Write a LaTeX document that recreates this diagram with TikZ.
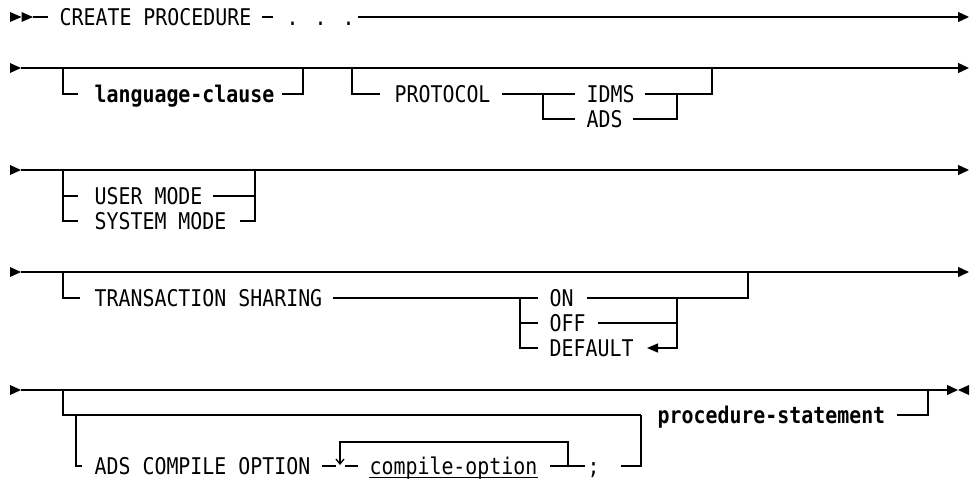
\documentclass[tikz,border=0pt]{standalone}
\usepackage{fontspec}
\usetikzlibrary{arrows.meta}
\newfontfamily\rrfont{DejaVu Sans Mono}[FakeStretch=0.865]
\begin{document}
\begin{tikzpicture}[x=1pt,y=-1pt,line width=1.3pt,
  txt/.style={inner sep=0pt,anchor=base west,font=\rrfont\fontsize{23}{23}\selectfont},
  btxt/.style={inner sep=0pt,anchor=base west,font=\rrfont\bfseries\fontsize{23}{23}\selectfont},
  endarrow/.style={-{Triangle[length=11pt,width=10pt]}},
  backarrow/.style={-{Triangle[length=11pt,width=9pt]}},
  repeatarrow/.style={-{Straight Barb[length=5pt,width=8pt]}}]
\useasboundingbox (0,0) rectangle (977,480);

% ---------- row 1 ----------
\fill (10,12) -- (21.5,17) -- (10,22) -- cycle;
\fill (21.5,12) -- (33,17) -- (21.5,22) -- cycle;
\draw (33,17) -- (48,17);
\node[txt] (create) at (59,25) {CREATE PROCEDURE};
\draw[line width=1.2pt] (262,17) -- (273,17);
\node[txt] (dots) at (286,25) {. . .};
\draw[endarrow] (358,17) -- (969,17);

% ---------- row 2 ----------
\fill (10,63) -- (21,68) -- (10,73) -- cycle;
\draw[endarrow] (21,68) -- (969,68);
\draw (63,68) |- (78,94);
\node[btxt] (lang) at (94,102) {language-clause};
\draw (282,94) -| (303,68);
\draw (352,68) |- (380,94);
\node[txt] (protocol) at (394,102) {PROTOCOL};
\draw (502,94) -- (575,94);
\draw (543,94) |- (575,119);
\node[txt] (idms) at (586,102) {IDMS};
\node[txt] (ads) at (586,127) {ADS};
\draw (645,94) -| (712,68);
\draw (633,119) -| (677,94);

% ---------- row 3 ----------
\fill (10,165) -- (21,170) -- (10,175) -- cycle;
\draw[endarrow] (21,170) -- (969,170);
\draw (63,170) |- (78,221);
\draw (63,196) -- (78,196);
\node[txt] (user) at (94,204) {USER MODE};
\node[txt] (system) at (94,229) {SYSTEM MODE};
\draw (213,196) -- (255,196);
\draw (240,221) -| (255,170);

% ---------- row 4 ----------
\fill (10,267) -- (21,272) -- (10,277) -- cycle;
\draw[endarrow] (21,272) -- (969,272);
\draw (63,272) |- (80,298);
\node[txt] (ts) at (94,306) {TRANSACTION SHARING};
\draw (333,298) -- (538,298);
\draw (520,298) |- (538,348);
\draw (520,323) -- (538,323);
\node[txt] (on) at (549,306) {ON};
\node[txt] (off) at (549,331) {OFF};
\node[txt] (default) at (549,356) {DEFAULT};
\draw (587,298) -| (748,272);
\draw (598,323) -- (677,323);
\draw[backarrow] (677,298) |- (647,348);

% ---------- row 5 ----------
\fill (10,385) -- (21,390) -- (10,395) -- cycle;
\draw[endarrow] (21,390) -- (958,390);
\fill (969,385) -- (958,390) -- (969,395) -- cycle;
\draw (63,390) |- (641,415);
\draw (76,415) |- (82,466);
\node[txt] (adsco) at (94,474) {ADS COMPILE OPTION};
\draw (322,466) -- (336,466);
\draw[repeatarrow] (568,466) |- (340,442) -- (340,465);
\draw (345,466) -- (358,466);
\node[txt] (copt) at (369,474) {compile-option};
\draw[line width=1pt] ([yshift=-3pt]copt.base west) -- ([yshift=-3pt]copt.base east);
\draw (550,466) -- (585,466);
\node[txt] (semi) at (587,474) {;};
\draw (621,466) -| (641,415);
\node[btxt] (ps) at (657,423) {procedure-statement};
\draw (897,415) -| (928,390);
\end{tikzpicture}
\end{document}
